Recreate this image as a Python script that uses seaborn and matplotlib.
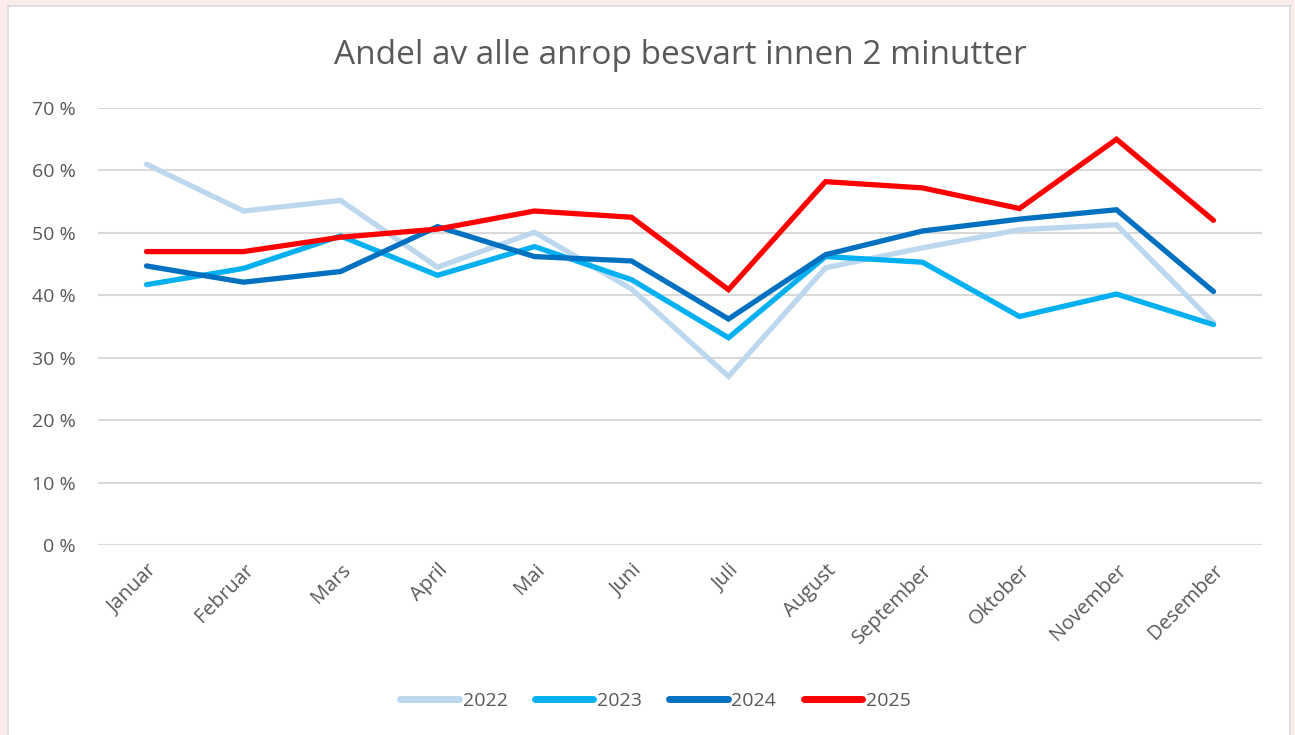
import pandas as pd
import numpy as np
import matplotlib.pyplot as plt
import matplotlib.patches as mpatches
import seaborn as sns

months = ['Januar', 'Februar', 'Mars', 'April', 'Mai', 'Juni', 'Juli',
          'August', 'September', 'Oktober', 'November', 'Desember']
y2022 = [61.0, 53.5, 55.2, 44.5, 50.1, 41.0, 27.0, 44.4, 47.6, 50.5, 51.3, 35.6]
y2023 = [41.7, 44.3, 49.5, 43.2, 47.8, 42.5, 33.2, 46.2, 45.3, 36.6, 40.2, 35.3]
y2024 = [44.7, 42.1, 43.8, 51.0, 46.2, 45.5, 36.2, 46.5, 50.3, 52.2, 53.7, 40.6]
y2025 = [47.0, 47.0, 49.3, 50.6, 53.5, 52.5, 40.9, 58.2, 57.2, 53.9, 65.0, 52.0]
years = ['2022', '2023', '2024', '2025']
colors = ['#BDD7EE', '#00B0F0', '#0070C0', '#FF0000']

rows = []
for yr, vals in zip(years, [y2022, y2023, y2024, y2025]):
    for m, v in zip(months, vals):
        rows.append({'Måned': m, 'Andel': v, 'År': yr})
df = pd.DataFrame(rows)

sns.set_style('white')
plt.rcParams['font.family'] = ['Open Sans', 'DejaVu Sans']
text_col = '#595959'

fig = plt.figure(figsize=(12.95, 7.35), dpi=100, facecolor='#FCEBEB')
# white chart area with thin grey frame
fig.patches.append(mpatches.Rectangle((8 / 1295, -0.01), 1282 / 1295, 1 - 6 / 735 + 0.01,
                                      transform=fig.transFigure, facecolor='white',
                                      edgecolor='#D9D9D9', linewidth=1.2, zorder=-5))

ax = fig.add_axes([98 / 1295, 1 - 545 / 735, 1164 / 1295, 437 / 735])
ax.set_facecolor('none')
sns.lineplot(data=df, x='Måned', y='Andel', hue='År', palette=dict(zip(years, colors)),
             sort=False, linewidth=3.8, ax=ax, legend=True)
for ln in ax.lines:
    ln.set_solid_capstyle('round')
    ln.set_solid_joinstyle('miter')

ax.set_ylim(0, 70)
ax.set_xlim(-0.5, 11.5)
ax.set_yticks(range(0, 71, 10))
ax.set_yticklabels([f'{v} %' for v in range(0, 71, 10)])
ax.yaxis.grid(True, color='#D9D9D9', linewidth=1.5)
ax.set_axisbelow(True)
for s in ax.spines.values():
    s.set_visible(False)
ax.set_xlabel('')
ax.set_ylabel('')
ax.tick_params(axis='both', length=0, colors=text_col, labelsize=14)
ax.tick_params(axis='y', pad=16)
plt.setp(ax.get_xticklabels(), rotation=45, ha='right', rotation_mode='anchor', fontsize=14.5)
ax.tick_params(axis='x', pad=11)

ax.set_title('Andel av alle anrop besvart innen 2 minutter', fontsize=24,
             color=text_col, pad=32)

handles, labels = ax.get_legend_handles_labels()
ax.legend(handles, labels, loc='center', bbox_to_anchor=(0.479, -0.357), ncol=4,
          frameon=False, fontsize=14, labelcolor=text_col, handlelength=3.0,
          handletextpad=0.2, columnspacing=1.4)
for h in ax.get_legend().get_lines():
    h.set_linewidth(5)
    h.set_solid_capstyle('round')

fig.savefig('out.png', dpi=100, facecolor=fig.get_facecolor())
